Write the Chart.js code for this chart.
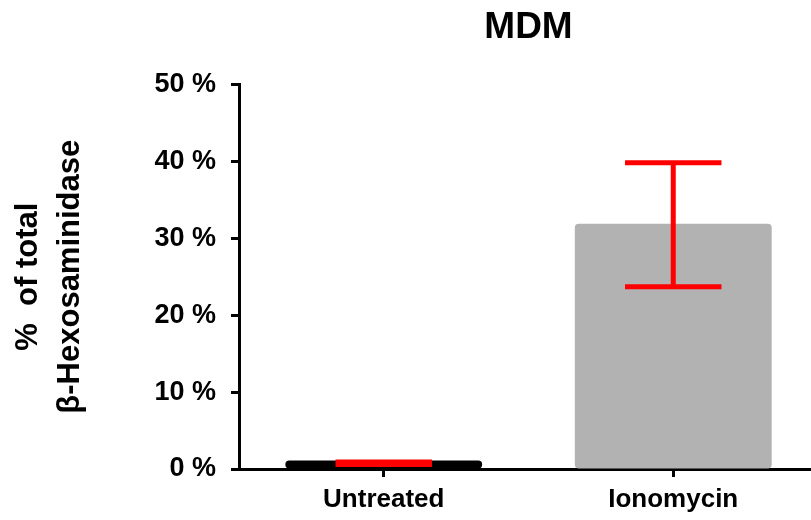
<!DOCTYPE html>
<html>
<head>
<meta charset="utf-8">
<script src="https://cdn.jsdelivr.net/npm/chart.js@4"></script>
<style>
  html, body { margin: 0; padding: 0; background: #fff; overflow: hidden; }
  canvas { display: block; }
</style>
</head>
<body>
<canvas id="c" width="818" height="520"></canvas>
<script>
const categories = ['Untreated', 'Ionomycin'];
const meanValues = [1.1, 31.9];
const errLow = [0.6, 23.7];
const errHigh = [0.9, 39.8];
const barColors = ['#000000', '#b2b2b2'];
const yTicks = [0, 10, 20, 30, 40, 50];
const chartTitle = 'MDM';
const yTitle = ['%  of total', 'β-Hexosaminidase'];

const FONT = '"Liberation Sans", Arial, sans-serif';

const errorBarPlugin = {
  id: 'errorBars',
  afterDatasetsDraw(chart) {
    const ctx = chart.ctx;
    const meta = chart.getDatasetMeta(0);
    const y = chart.scales.y;
    ctx.save();
    ctx.strokeStyle = '#ff0000';
    ctx.lineWidth = 5;
    ctx.lineCap = 'butt';
    meta.data.forEach((bar, i) => {
      const x = bar.x;
      const half = bar.width * 0.245;
      const yl = y.getPixelForValue(errLow[i]);
      const yh = y.getPixelForValue(errHigh[i]);
      ctx.beginPath();
      ctx.moveTo(x, yl); ctx.lineTo(x, yh);
      ctx.moveTo(x - half, yl); ctx.lineTo(x + half, yl);
      ctx.moveTo(x - half, yh); ctx.lineTo(x + half, yh);
      ctx.stroke();
    });
    ctx.restore();
  }
};

new Chart(document.getElementById('c'), {
  type: 'bar',
  data: {
    labels: categories,
    datasets: [{
      data: meanValues,
      backgroundColor: barColors,
      borderWidth: 0,
      borderRadius: 4,
      borderSkipped: false,
      categoryPercentage: 1,
      barPercentage: 0.68
    }]
  },
  options: {
    responsive: false,
    devicePixelRatio: 1,
    animation: false,
    layout: { padding: 0 },
    plugins: {
      legend: { display: false },
      tooltip: { enabled: false },
      title: {
        display: true,
        text: chartTitle,
        fullSize: false,
        color: '#000',
        font: { family: FONT, size: 37, weight: 'bold', lineHeight: 1.2 },
        padding: { top: 6, bottom: 34 }
      }
    },
    scales: {
      x: {
        z: 1,
        offset: true,
        grid: { offset: false, drawOnChartArea: false, drawTicks: true, tickLength: 8, tickWidth: 3, tickColor: '#000' },
        border: { display: true, color: '#000', width: 3 },
        ticks: { color: '#000', padding: 7, font: { family: FONT, size: 26, weight: 'bold', lineHeight: 1.2 } },
        afterFit(scale) { scale.height = 51; }
      },
      y: {
        z: 1,
        min: 0,
        max: 50,
        afterBuildTicks(scale) { scale.ticks = yTicks.map(v => ({ value: v })); },
        grid: { drawOnChartArea: false, drawTicks: true, tickLength: 8, tickWidth: 3, tickColor: '#000' },
        border: { display: true, color: '#000', width: 3 },
        ticks: {
          color: '#000',
          padding: 15,
          font: { family: FONT, size: 27, weight: 'bold' },
          callback: v => v + ' %'
        },
        title: {
          display: true,
          text: yTitle,
          color: '#000',
          font: { family: FONT, size: 31, weight: 'bold', lineHeight: 1.36 },
          padding: { top: 7, bottom: 0 }
        },
        afterFit(scale) { scale.width = 239; }
      }
    }
  },
  plugins: [errorBarPlugin]
});
</script>
</body>
</html>
